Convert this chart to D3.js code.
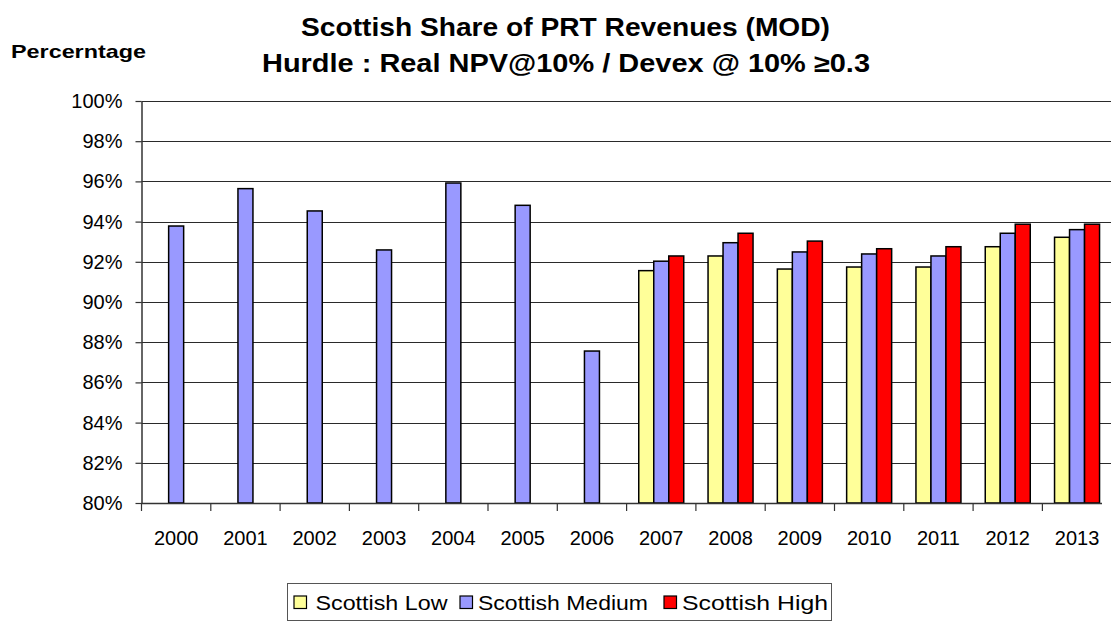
<!DOCTYPE html>
<html>
<head>
  <script type="text/javascript" src="https://d3js.org/d3.v7.min.js"></script>
</head>
<body>
<style type="text/css">
  html,
  body {
    overflow: hidden;
    margin: 0px;
    background: #ffffff;
  }

  text {
    font-family: "Liberation Sans", Arial, sans-serif;
    fill: #000000;
  }
</style>

<script>
"use strict";

// Data
const YEARS = ["2000", "2001", "2002", "2003", "2004", "2005", "2006",
  "2007", "2008", "2009", "2010", "2011", "2012", "2013"];
const SERIES = ["Scottish Low", "Scottish Medium", "Scottish High"];
const LOW = [null, null, null, null, null, null, null,
  91.56, 92.29, 91.64, 91.74, 91.74, 92.75, 93.22];
const MEDIUM = [93.78, 95.64, 94.53, 92.59, 95.92, 94.81, 87.56,
  92.03, 92.95, 92.49, 92.39, 92.29, 93.42, 93.60];
const HIGH = [null, null, null, null, null, null, null,
  92.29, 93.42, 93.03, 92.65, 92.75, 93.87, 93.87];
const Y_TICKS = [80, 82, 84, 86, 88, 90, 92, 94, 96, 98, 100];
const COLORS = ["#FFFF99", "#9999FF", "#FF0000"];

// Dimensions
const WIDTH = 1111;
const HEIGHT = 621;
const PLOT_LEFT = 141.5;
const PLOT_TOP = 101;
const PLOT_BOTTOM = 503;
const BAND = 69.3;
const BAR_W = 15;

const SVG = d3.select("body")
  .append("svg")
  .attr("width", WIDTH)
  .attr("height", HEIGHT);

const X_SCALE = d3.scaleBand()
  .domain(YEARS)
  .range([PLOT_LEFT, PLOT_LEFT + BAND * YEARS.length]);

const X_INNER = d3.scaleBand()
  .domain(SERIES)
  .range([-BAR_W * 1.5, BAR_W * 1.5]);

const Y_SCALE = d3.scaleLinear()
  .domain([80, 100])
  .range([PLOT_BOTTOM, PLOT_TOP]);

// Gridlines
SVG.append("g")
  .selectAll("line")
  .data(Y_TICKS.slice(1))
  .join("line")
  .attr("x1", PLOT_LEFT)
  .attr("x2", WIDTH)
  .attr("y1", d => Math.round(Y_SCALE(d)) + 0.5)
  .attr("y2", d => Math.round(Y_SCALE(d)) + 0.5)
  .attr("stroke", "#2a2a2a")
  .attr("stroke-width", 1.2);

// Bars
const ROWS = [LOW, MEDIUM, HIGH];
const BAR_DATA = [];
ROWS.forEach(function(row, s) {
  row.forEach(function(v, i) {
    if (v !== null) BAR_DATA.push({ year: YEARS[i], series: SERIES[s], value: v, color: COLORS[s] });
  });
});

SVG.append("g")
  .selectAll("rect")
  .data(BAR_DATA)
  .join("rect")
  .attr("x", d => X_SCALE(d.year) + X_SCALE.bandwidth() / 2 + X_INNER(d.series))
  .attr("y", d => Y_SCALE(d.value))
  .attr("width", X_INNER.bandwidth())
  .attr("height", d => PLOT_BOTTOM - Y_SCALE(d.value))
  .attr("fill", d => d.color)
  .attr("stroke", "#000000")
  .attr("stroke-width", 1.5);

// Y axis
const Y_AXIS = SVG.append("g")
  .attr("transform", "translate(" + PLOT_LEFT + ",0)")
  .call(d3.axisLeft(Y_SCALE)
    .tickValues(Y_TICKS)
    .tickFormat(d => d + "%")
    .tickSizeInner(6)
    .tickSizeOuter(0)
    .tickPadding(13));
Y_AXIS.select(".domain").attr("stroke", "#333333").attr("stroke-width", 1.5);
Y_AXIS.selectAll(".tick line").attr("stroke", "#333333").attr("stroke-width", 1.2);
Y_AXIS.selectAll(".tick text")
  .attr("font-size", 20)
  .attr("font-family", "Liberation Sans, Arial, sans-serif");

// X axis line and boundary ticks
SVG.append("line")
  .attr("x1", PLOT_LEFT)
  .attr("x2", 1102)
  .attr("y1", PLOT_BOTTOM + 0.5)
  .attr("y2", PLOT_BOTTOM + 0.5)
  .attr("stroke", "#333333")
  .attr("stroke-width", 1.5);

SVG.append("g")
  .selectAll("line")
  .data(YEARS)
  .join("line")
  .attr("x1", d => X_SCALE(d))
  .attr("x2", d => X_SCALE(d))
  .attr("y1", PLOT_BOTTOM)
  .attr("y2", PLOT_BOTTOM + 8)
  .attr("stroke", "#333333")
  .attr("stroke-width", 1.2);

const X_AXIS = SVG.append("g")
  .attr("transform", "translate(0," + PLOT_BOTTOM + ")")
  .call(d3.axisBottom(X_SCALE).tickSize(0).tickPadding(28));
X_AXIS.select(".domain").remove();
X_AXIS.selectAll(".tick text")
  .attr("font-size", 20)
  .attr("font-family", "Liberation Sans, Arial, sans-serif");

// Titles
SVG.append("text")
  .attr("x", 301)
  .attr("y", 36)
  .attr("font-size", 25)
  .attr("font-weight", "bold")
  .attr("textLength", 529)
  .attr("lengthAdjust", "spacingAndGlyphs")
  .text("Scottish Share of PRT Revenues (MOD)");

SVG.append("text")
  .attr("x", 262)
  .attr("y", 72)
  .attr("font-size", 25)
  .attr("font-weight", "bold")
  .attr("textLength", 608)
  .attr("lengthAdjust", "spacingAndGlyphs")
  .text("Hurdle : Real NPV@10% / Devex @ 10% \u22650.3");

SVG.append("text")
  .attr("x", 11)
  .attr("y", 58)
  .attr("font-size", 19)
  .attr("font-weight", "bold")
  .attr("textLength", 135)
  .attr("lengthAdjust", "spacingAndGlyphs")
  .text("Percerntage");

// Legend
const LEGEND = SVG.append("g");
LEGEND.append("rect")
  .attr("x", 287.5)
  .attr("y", 583.5)
  .attr("width", 544)
  .attr("height", 37)
  .attr("fill", "#ffffff")
  .attr("stroke", "#555555")
  .attr("stroke-width", 1);

const LEGEND_X = [294, 460, 664];
const LEGEND_W = [132, 170, 146];
const ITEMS = LEGEND.selectAll(".item")
  .data(SERIES)
  .join("g")
  .attr("transform", (d, i) => "translate(" + LEGEND_X[i] + ",596)");
ITEMS.append("rect")
  .attr("width", 12.5)
  .attr("height", 12.5)
  .attr("fill", (d, i) => COLORS[i])
  .attr("stroke", "#000000")
  .attr("stroke-width", 1.2);
ITEMS.append("text")
  .attr("x", (d, i) => i === 0 ? 21.5 : 18)
  .attr("y", 14)
  .attr("font-size", 21)
  .attr("textLength", (d, i) => LEGEND_W[i])
  .attr("lengthAdjust", "spacingAndGlyphs")
  .text(d => d);
</script>
</body>
</html>
